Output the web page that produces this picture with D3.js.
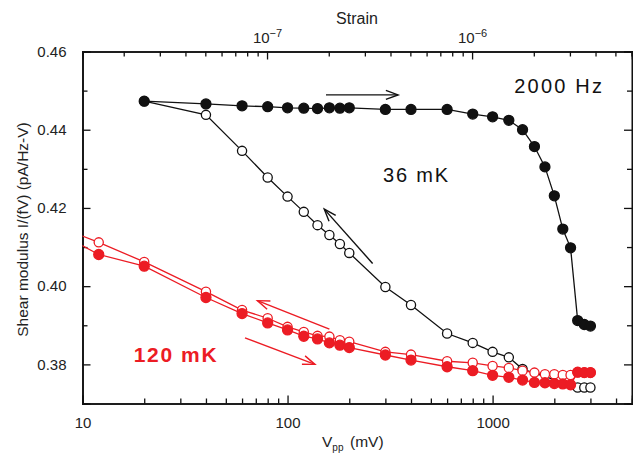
<!DOCTYPE html>
<html><head><meta charset="utf-8">
<script src="https://cdn.jsdelivr.net/npm/d3@7"></script>
<style>body{margin:0;background:#fff} svg{display:block} text{font-family:Arial,"Liberation Sans",sans-serif}</style>
</head><body><svg id="c" width="633" height="457"></svg>
<script>
// ---- data ----
const vpp36Up = [20,40,60,80,100,120,140,160,180,200,300,400,600,800,1000,1200,1400,1600,1800,2000,2200,2400,2600,2800,3000];
const mod36Up = [0.4473,0.4466,0.4461,0.4459,0.4456,0.4455,0.4454,0.4456,0.4455,0.4456,0.4452,0.4452,0.4452,0.4440,0.4433,0.4424,0.4400,0.4357,0.4305,0.4231,0.4146,0.4098,0.3912,0.3902,0.3898];
const vpp36Down = [20,40,60,80,100,120,140,160,180,200,300,400,600,800,1000,1200,1400,2600,2800,3000];
const mod36Down = [0.4473,0.4438,0.4346,0.4278,0.4229,0.4190,0.4156,0.4131,0.4108,0.4085,0.3998,0.3952,0.3879,0.3855,0.3832,0.3818,0.3788,0.3741,0.3741,0.3741];
const vpp120 = [8,12,20,40,60,80,100,120,140,160,180,200,300,400,600,800,1000,1200,1400,1600,1800,2000,2200,2400,2600,2800,3000];
const mod120Up = [0.4130,0.4081,0.4051,0.3971,0.3930,0.3906,0.3888,0.3872,0.3865,0.3855,0.3849,0.3843,0.3824,0.3811,0.3794,0.3784,0.3772,0.3767,0.3760,0.3754,0.3753,0.3751,0.3750,0.3748,0.3780,0.3779,0.3779];
const mod120Down = [0.4148,0.4112,0.4062,0.3986,0.3939,0.3918,0.3896,0.3883,0.3873,0.3871,0.3862,0.3858,0.3832,0.3825,0.3808,0.3804,0.3796,0.3791,0.3784,0.3779,0.3775,0.3775,0.3773,0.3773,0.3780,0.3779,0.3779];
const yTicks = [0.38,0.40,0.42,0.44,0.46];
const xMajor = [10,100,1000];
const strainMajor = [1e-7,1e-6];
const strainPerMv = 1.259e-9;
// annotation arrows [vpp, value] from -> to
const arrows = [
  {from:[154,0.4489], to:[346,0.4489], color:"#111"},
  {from:[260,0.4058], to:[151,0.4197], color:"#111"},
  {from:[160,0.3890], to:[71.3,0.3963], color:"#ec1c24"},
  {from:[62,0.3868], to:[136,0.3800], color:"#ec1c24"}
];
const labels = [
  {text:"2000 Hz", v:3500, m:0.4493, size:20, weight:"normal", color:"#111", anchor:"end", ls:2.2},
  {text:"36 mK", v:292, m:0.4266, size:20, weight:"normal", color:"#111", anchor:"start", ls:1.8},
  {text:"120 mK", v:17.8, m:0.3805, size:21, weight:"bold", color:"#ec1c24", anchor:"start", ls:1.6}
];

// ---- layout ----
const svg = d3.select("#c");
const L=82.5, R=632, T=51.5, B=403.5;
const x = d3.scaleLog().domain([10,4785]).range([L,R]);
const y = d3.scaleLinear().domain([0.37,0.46]).range([B,T]);
const xs = d3.scaleLog().domain([10*strainPerMv,4785*strainPerMv]).range([L,R]);
const RED="#ec1c24", BLK="#111";

svg.append("defs").append("clipPath").attr("id","clip").append("rect")
  .attr("x",L).attr("y",T).attr("width",R-L).attr("height",B-T);

function minorLog(lo,hi){const out=[];for(let e=-10;e<6;e++){for(let k=2;k<10;k++){const v=k*Math.pow(10,e);if(v>lo*1.0001&&v<hi*0.9999)out.push(v);}}return out;}
const axisG = svg.append("g");
// bottom
axisG.append("g").attr("transform",`translate(0,${B})`).call(d3.axisBottom(x).tickValues(minorLog(10,4785)).tickSize(-5).tickFormat(""));
axisG.append("g").attr("transform",`translate(0,${B})`).call(d3.axisBottom(x).tickValues(xMajor).tickSize(-8).tickPadding(14).tickFormat(d3.format("d")));
// top (strain)
axisG.append("g").attr("transform",`translate(0,${T})`).call(d3.axisTop(xs).tickValues(minorLog(10*strainPerMv,4785*strainPerMv)).tickSize(-5).tickFormat(""));
const topMaj = axisG.append("g").attr("transform",`translate(0,${T})`).call(d3.axisTop(xs).tickValues(strainMajor).tickSize(-8).tickFormat(""));
topMaj.selectAll(".tick").append("text").attr("y",-9).attr("fill","#222").attr("text-anchor","middle")
  .each(function(d){const t=d3.select(this);t.append("tspan").attr("font-size",15).text("10");t.append("tspan").attr("dy",-6).attr("font-size",11).text(String(Math.round(Math.log10(d))).replace("-","\u2212"));});
// left / right
const yMinor = d3.range(0.37,0.4601,0.01).map(v=>+v.toFixed(2)).filter(v=>!yTicks.includes(v));
axisG.append("g").attr("transform",`translate(${L},0)`).call(d3.axisLeft(y).tickValues(yMinor).tickSize(-5).tickFormat(""));
axisG.append("g").attr("transform",`translate(${L},0)`).call(d3.axisLeft(y).tickValues(yTicks).tickSize(-8).tickPadding(16).tickFormat(d3.format(".2f")));
axisG.append("g").attr("transform",`translate(${R},0)`).call(d3.axisRight(y).tickValues(yMinor).tickSize(-5).tickFormat(""));
axisG.append("g").attr("transform",`translate(${R},0)`).call(d3.axisRight(y).tickValues(yTicks).tickSize(-8).tickFormat(""));
axisG.selectAll("g").attr("font-size",15).attr("font-family","Arial, 'Liberation Sans', sans-serif");
axisG.selectAll("path.domain").attr("stroke",BLK).attr("stroke-width",1.6);
axisG.selectAll(".tick line").attr("stroke",BLK).attr("stroke-width",1.3);
axisG.selectAll(".tick text").attr("fill","#222");

// axis titles
svg.append("text").attr("x",357).attr("y",24).attr("text-anchor","middle").attr("font-size",16).attr("fill","#222").text("Strain");
const xt = svg.append("text").attr("x",322).attr("y",447).attr("text-anchor","start").attr("font-size",15.5).attr("fill","#222");
xt.append("tspan").text("V");
xt.append("tspan").attr("font-size",10).attr("dy",4).text("pp");
xt.append("tspan").attr("dy",-4).attr("x",350).text("(mV)");
svg.append("text").attr("transform",`translate(28,${(T+B)/2+2}) rotate(-90)`).attr("text-anchor","middle").attr("font-size",15.5).attr("fill","#222")
  .text("Shear modulus I/(fV) (pA/Hz-V)");

// ---- series ----
const plot = svg.append("g").attr("clip-path","url(#clip)");
function series(vs, ms, color, filled){
  const pts = vs.map((v,i)=>[v,ms[i]]);
  plot.append("path").datum(pts).attr("fill","none").attr("stroke",color).attr("stroke-width",1.3)
    .attr("d",d3.line().x(d=>x(d[0])).y(d=>y(d[1])));
  plot.append("g").selectAll("circle").data(pts).join("circle")
    .attr("cx",d=>x(d[0])).attr("cy",d=>y(d[1])).attr("r",filled?5:4.6)
    .attr("fill",filled?color:"#fff").attr("stroke",color).attr("stroke-width",1.3);
}
series(vpp36Down, mod36Down, BLK, false);
series(vpp36Up, mod36Up, BLK, true);
series(vpp120, mod120Down, RED, false);
series(vpp120, mod120Up, RED, true);

// ---- arrows ----
arrows.forEach(a=>{
  const x1=x(a.from[0]), y1=y(a.from[1]), x2=x(a.to[0]), y2=y(a.to[1]);
  const ang=Math.atan2(y2-y1,x2-x1), hl=13, ha=0.35;
  const g=svg.append("g").attr("stroke",a.color).attr("stroke-width",1.4).attr("fill","none");
  g.append("line").attr("x1",x1).attr("y1",y1).attr("x2",x2).attr("y2",y2);
  g.append("path").attr("d",`M${x2-hl*Math.cos(ang-ha)},${y2-hl*Math.sin(ang-ha)}L${x2},${y2}L${x2-hl*Math.cos(ang+ha)},${y2-hl*Math.sin(ang+ha)}`);
});

// ---- labels ----
labels.forEach(l=>{
  svg.append("text").attr("x",x(l.v)).attr("y",y(l.m)).attr("font-size",l.size).attr("font-weight",l.weight)
    .attr("fill",l.color).attr("text-anchor",l.anchor).attr("letter-spacing",l.ls).text(l.text);
});
</script></body></html>
